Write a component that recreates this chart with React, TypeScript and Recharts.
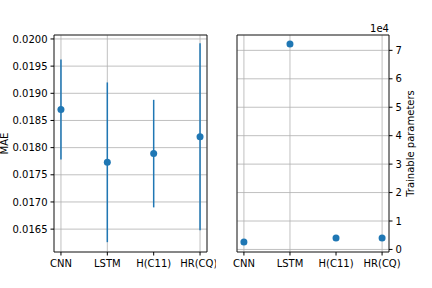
import React from "react"
import {
  ComposedChart,
  Scatter,
  ErrorBar,
  XAxis,
  YAxis,
  CartesianGrid,
  ReferenceArea,
} from "recharts"

const categories = ["CNN", "LSTM", "H(C11)", "HR(CQ)"]
const maeMean = [0.0187, 0.01773, 0.01789, 0.0182]
const maeErr = [0.00092, 0.00147, 0.00099, 0.00172]
const trainableParams = [2600, 72250, 4000, 4000]

const maeTicks = [0.0165, 0.017, 0.0175, 0.018, 0.0185, 0.019, 0.0195, 0.02]
const paramTicks = [0, 10000, 20000, 30000, 40000, 50000, 60000, 70000]
const catTicks = [0, 1, 2, 3]

const BLUE = "#1f77b4"
const X_DOMAIN: [number, number] = [-0.15, 3.15]
const MAE_DOMAIN: [number, number] = [0.016079, 0.020073]
const PARAM_DOMAIN: [number, number] = [-900, 75400]

const maeData = categories.map((name, i) => ({ x: i, name, mae: maeMean[i], err: maeErr[i] }))
const paramData = categories.map((name, i) => ({ x: i, name, p: trainableParams[i] }))

const tickStyle = { fill: "#000", fontSize: 10 }
const dot = (props: any) => <circle cx={props.cx} cy={props.cy} r={3.5} fill={BLUE} />

export default function App() {
  return (
    <div style={{ position: "absolute", left: 0, top: 0, width: 432, height: 288, fontFamily: "DejaVu Sans", background: "#fff" }}>
      <div style={{ position: "absolute", left: 0, top: 0 }}>
        <ComposedChart width={216} height={288} data={maeData} margin={{ top: 35, right: 9, bottom: 0, left: 0 }}>
          <CartesianGrid stroke="#b0b0b0" strokeWidth={0.8} />
          <XAxis
            dataKey="x"
            type="number"
            domain={X_DOMAIN}
            ticks={catTicks}
            tickFormatter={(v: number) => categories[v]}
            height={36}
            tick={tickStyle}
            tickSize={3.5}
            tickMargin={4.5}
            tickLine={{ stroke: "#000" }}
            axisLine={false}
            allowDataOverflow
          />
          <YAxis
            type="number"
            domain={MAE_DOMAIN}
            ticks={maeTicks}
            tickFormatter={(v: number) => v.toFixed(4)}
            width={54}
            tick={tickStyle}
            tickSize={3.5}
            tickMargin={3}
            tickLine={{ stroke: "#000" }}
            axisLine={false}
            allowDataOverflow
            label={{ value: "MAE", angle: -90, position: "insideLeft", offset: 4, style: { textAnchor: "middle", fill: "#000", fontSize: 10 } }}
          />
          <ReferenceArea x1={X_DOMAIN[0]} x2={X_DOMAIN[1]} y1={MAE_DOMAIN[0]} y2={MAE_DOMAIN[1]} fill="none" stroke="#000" strokeWidth={0.8} />
          <Scatter dataKey="mae" fill={BLUE} shape={dot} isAnimationActive={false}>
            <ErrorBar dataKey="err" direction="y" width={0} stroke={BLUE} strokeWidth={1.5} />
          </Scatter>
        </ComposedChart>
      </div>
      <div style={{ position: "absolute", left: 216, top: 0 }}>
        <ComposedChart width={216} height={288} data={paramData} margin={{ top: 35, right: 0, bottom: 0, left: 21 }}>
          <CartesianGrid stroke="#b0b0b0" strokeWidth={0.8} />
          <XAxis
            dataKey="x"
            type="number"
            domain={X_DOMAIN}
            ticks={catTicks}
            tickFormatter={(v: number) => categories[v]}
            height={36}
            tick={tickStyle}
            tickSize={3.5}
            tickMargin={4.5}
            tickLine={{ stroke: "#000" }}
            axisLine={false}
            allowDataOverflow
          />
          <YAxis
            orientation="right"
            type="number"
            domain={PARAM_DOMAIN}
            ticks={paramTicks}
            tickFormatter={(v: number) => String(v / 10000)}
            width={43}
            tick={tickStyle}
            tickSize={3.5}
            tickMargin={3}
            tickLine={{ stroke: "#000" }}
            axisLine={false}
            allowDataOverflow
            label={{ value: "Trainable parameters", angle: -90, position: "insideRight", offset: 22, style: { textAnchor: "middle", fill: "#000", fontSize: 10 } }}
          />
          <ReferenceArea x1={X_DOMAIN[0]} x2={X_DOMAIN[1]} y1={PARAM_DOMAIN[0]} y2={PARAM_DOMAIN[1]} fill="none" stroke="#000" strokeWidth={0.8} />
          <Scatter dataKey="p" fill={BLUE} shape={dot} isAnimationActive={false} />
        </ComposedChart>
      </div>
      <div style={{ position: "absolute", left: 349, top: 24, width: 40, textAlign: "right", fontSize: 10, lineHeight: "10px", color: "#000" }}>
        1e4
      </div>
    </div>
  )
}
